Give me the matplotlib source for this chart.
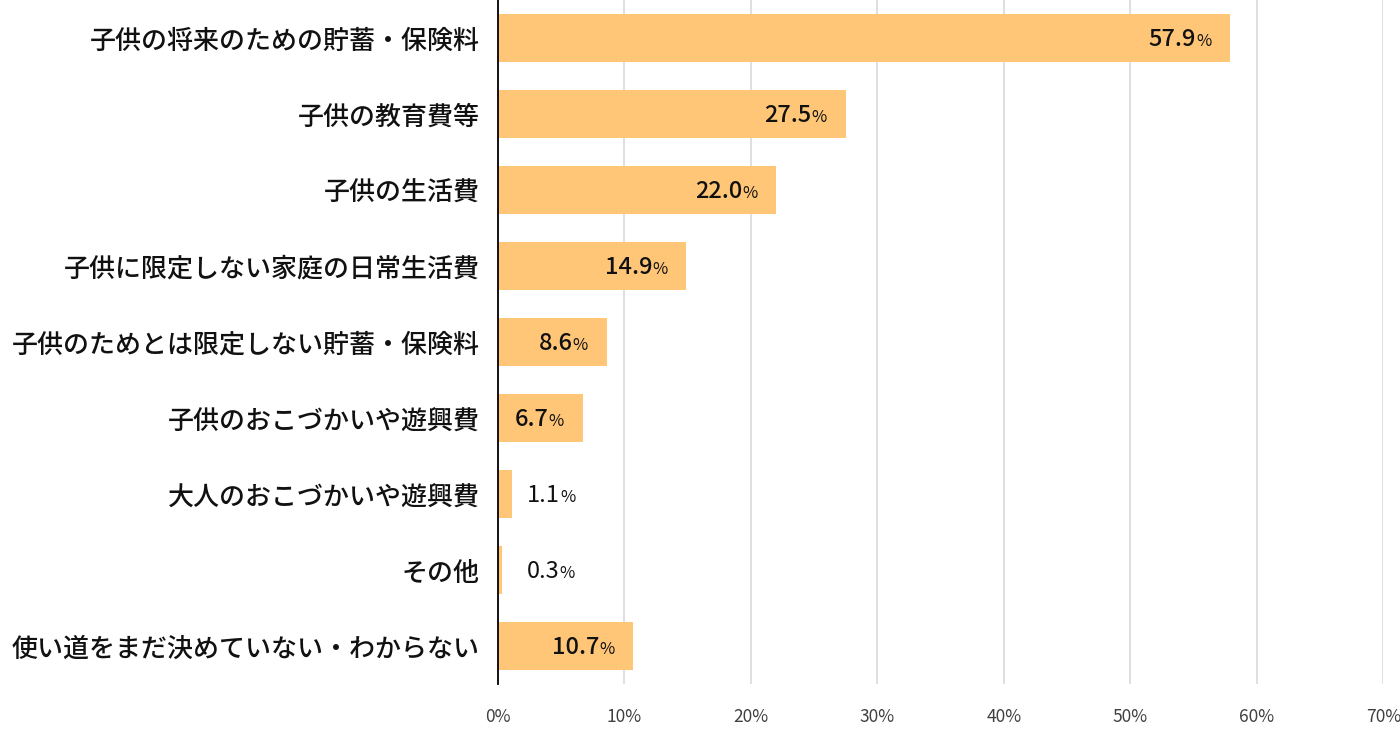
import matplotlib
matplotlib.use("Agg")
import matplotlib.pyplot as plt

plt.rcParams['font.family'] = ['Noto Sans CJK JP', 'DejaVu Sans']

### données
categories = [
    "子供の将来のための貯蓄・保険料",
    "子供の教育費等",
    "子供の生活費",
    "子供に限定しない家庭の日常生活費",
    "子供のためとは限定しない貯蓄・保険料",
    "子供のおこづかいや遊興費",
    "大人のおこづかいや遊興費",
    "その他",
    "使い道をまだ決めていない・わからない",
]
values = [57.9, 27.5, 22.0, 14.9, 8.6, 6.7, 1.1, 0.3, 10.7]
xticks = [0, 10, 20, 30, 40, 50, 60, 70]

bar_color = "#FFC678"

fig = plt.figure(figsize=(14, 7.29), dpi=100)
ax = fig.add_axes([0.3557, 0.0617, 0.6325, 0.9383])

y = list(range(len(categories)))
ax.barh(y, values, height=0.63, color=bar_color, zorder=2)

ax.set_xlim(0, 70)
ax.set_ylim(len(categories) - 0.5, -0.5)
ax.set_xticks(xticks)
ax.set_xticklabels([f"{t}%" for t in xticks], fontsize=12.5, color="#404040")
ax.set_yticks(y)
ax.set_yticklabels(categories, fontsize=18.7, fontweight="medium", color="#111111")

ax.grid(axis="x", color="#d9d9d9", linewidth=1.2, zorder=0)
for s in ["top", "right", "bottom"]:
    ax.spines[s].set_visible(False)
ax.spines["left"].set_color("black")
ax.spines["left"].set_linewidth(1.3)
ax.spines["left"].set_zorder(3)
ax.tick_params(axis="y", length=0, pad=13)
ax.tick_params(axis="x", length=0, pad=17)

### étiquettes de valeur (chiffre en gras, "%" plus petit)
for yi, v in zip(y, values):
    yb = yi + 0.11  # ligne de base du texte
    if v > 5:
        pct = ax.text(v - 1.5, yb, "%", ha="right", va="baseline", fontsize=12,
                      color="#111111")
        ax.annotate(f"{v:.1f}", xy=(0, yb), xycoords=(pct, "data"), ha="right",
                    va="baseline", fontsize=17, fontweight="medium", color="#111111")
    else:
        num = ax.text(2.3, yb, f"{v:.1f}", ha="left", va="baseline", fontsize=17,
                      color="#111111")
        ax.annotate("%", xy=(1, yb), xycoords=(num, "data"), ha="left",
                    va="baseline", fontsize=12, color="#111111")

fig.savefig("out.png", dpi=100)
